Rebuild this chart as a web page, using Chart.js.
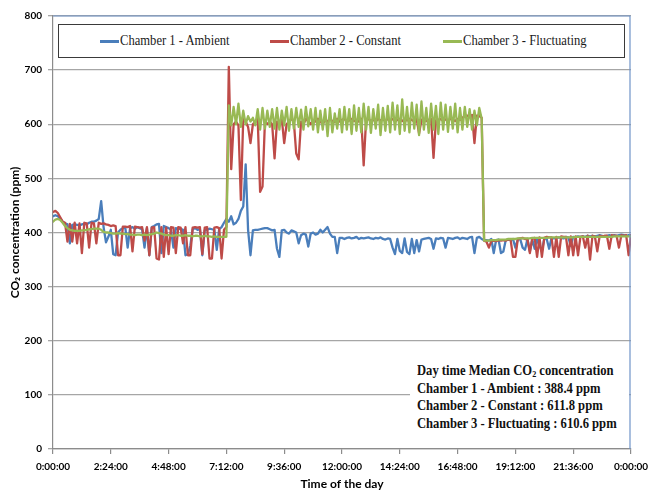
<!DOCTYPE html>
<html>
<head>
<meta charset="utf-8">
<script src="https://cdn.jsdelivr.net/npm/chart.js@4.4.1/dist/chart.umd.min.js"></script>
<style>
  body { margin: 0; background: #fff; }
  #wrap { position: relative; width: 648px; height: 490px; }
  #legend { position: absolute; left: 58px; top: 24px; width: 565px; height: 32px; border: 1.5px solid #3a3a3a; background: #fff; }
  .swatch { position: absolute; top: 40px; width: 19px; height: 2.5px; }
  .lbl { position: absolute; top: 32px; font-family: "Liberation Serif", serif; font-size: 14px; line-height: 18px; color: #1a1a1a; white-space: nowrap; transform: scaleX(0.9); transform-origin: left center; }
  #note { position: absolute; left: 410px; top: 354px; width: 219px; height: 88px; background: #fff; }
  #note div { position: absolute; left: 7px; font-family: "Liberation Serif", serif; font-weight: bold; font-size: 14px; line-height: 17.5px; color: #111; white-space: nowrap; transform: scaleX(0.9); transform-origin: left center; }
  #note sub { font-size: 9px; line-height: 0; vertical-align: -2px; }
</style>
</head>
<body>
<div id="wrap">
  <canvas id="chart" width="648" height="490"></canvas>
  <div id="legend"></div>
  <div class="swatch" style="left:100px;background:#4A7EBB"></div>
  <div class="lbl" style="left:120px">Chamber 1 - Ambient</div>
  <div class="swatch" style="left:270px;background:#BE4B48"></div>
  <div class="lbl" style="left:290px">Chamber 2 - Constant</div>
  <div class="swatch" style="left:443px;background:#98B954"></div>
  <div class="lbl" style="left:463px">Chamber 3 - Fluctuating</div>
  <div id="note">
    <div style="top:8px">Day time Median CO<sub>2</sub> concentration</div>
    <div style="top:25.5px">Chamber 1 - Ambient : 388.4 ppm</div>
    <div style="top:43px">Chamber 2 - Constant : 611.8 ppm</div>
    <div style="top:60.5px">Chamber 3 - Fluctuating : 610.6 ppm</div>
  </div>
</div>
<script>
// Sensor readings, one every 6 minutes (0.1 h) over the day
const hours = [];
for (let i = 0; i <= 240; i++) hours.push(i / 10);

// Chamber 1 - Ambient (ppm)
const ambient = [
  430,432,430,426,420,417,415,380,414,415,
  414,413,415,416,415,418,420,420,422,425,
  458,410,382,392,405,360,358,400,405,408,
  410,372,408,410,407,410,408,406,372,408,
  358,410,412,415,416,362,412,410,408,405,
  372,408,406,407,405,358,360,375,406,408,
  405,406,358,404,405,407,406,405,368,406,
  410,418,425,420,430,415,418,425,440,448,
  526,405,358,404,405,405,406,407,408,408,
  406,404,405,370,355,404,405,400,398,404,
  402,400,380,395,398,396,374,398,400,396,
  398,405,400,405,410,398,392,392,362,390,
  390,388,390,391,389,390,392,388,390,389,
  390,391,389,388,390,389,391,388,387,389,
  388,372,360,388,366,362,389,364,360,388,
  362,386,365,387,388,389,390,388,370,389,
  388,390,389,372,390,389,388,390,391,388,
  390,389,388,391,392,362,390,392,388,386,
  386,385,388,362,386,387,362,365,386,387,
  386,388,372,387,388,372,368,388,365,387,
  370,388,375,366,389,388,370,390,389,390,
  391,390,389,392,391,375,392,391,393,392,
  393,392,394,393,394,393,394,395,394,393,
  394,395,394,395,394,395,396,395,394,395,
  395
];

// Chamber 2 - Constant (ppm)
const constant = [
  438,440,436,428,420,418,383,416,383,418,
  380,417,362,418,417,372,418,417,380,418,
  416,417,415,414,412,413,412,358,358,411,
  411,410,412,365,411,410,409,410,385,410,
  358,409,410,352,350,410,355,409,360,410,
  409,362,410,409,380,410,358,358,409,410,
  409,410,360,409,410,352,352,409,410,408,
  352,405,410,706,517,600,605,598,460,612,
  605,595,565,600,605,610,475,485,605,600,
  605,600,537,605,600,610,565,600,605,610,
  605,546,535,605,600,610,605,600,608,605,
  610,605,600,608,605,610,606,604,610,605,
  608,610,605,607,610,606,608,605,610,524,
  608,610,606,608,605,610,607,609,606,610,
  607,610,605,608,610,606,609,607,610,608,
  605,610,583,608,610,606,608,610,538,607,
  608,610,606,609,607,610,608,606,610,608,
  612,615,616,615,617,565,616,615,612,385,
  383,372,384,385,384,386,385,386,385,387,
  387,355,355,388,389,390,388,388,362,389,
  390,355,391,355,390,392,391,391,355,392,
  355,393,392,392,358,393,358,393,358,392,
  393,372,394,350,394,393,365,394,393,394,
  394,370,395,394,394,372,395,394,395,358,
  395
];

// Chamber 3 - Fluctuating (ppm)
const fluctuating = [
  420,424,425,423,418,412,408,405,404,403,
  403,403,404,404,405,406,406,407,407,407,
  405,401,400,400,399,398,398,399,398,398,
  397,397,396,396,395,396,396,395,396,395,
  396,397,398,400,399,398,396,395,395,394,
  394,395,395,394,394,395,394,394,393,394,
  394,393,393,394,393,393,392,393,392,392,
  392,392,392,635,598,632,600,638,595,625,
  600,615,605,612,598,628,590,630,592,625,
  595,628,592,630,590,625,598,632,588,628,
  592,630,595,627,590,632,596,628,590,630,
  585,625,590,628,578,630,585,620,592,628,
  585,632,590,628,582,635,588,630,585,638,
  590,632,584,628,592,636,580,630,588,634,
  585,640,590,635,582,646,588,632,585,640,
  592,636,580,642,590,630,584,638,590,634,
  582,640,590,636,586,632,592,638,585,630,
  590,632,595,628,590,625,598,630,610,385,
  385,385,386,386,386,387,387,387,387,388,
  388,388,388,389,389,389,389,389,389,390,
  390,390,390,390,390,390,391,391,391,391,
  391,391,391,391,391,391,391,392,392,392,
  392,392,392,392,392,392,392,392,392,392,
  392,392,392,393,393,393,393,393,393,393,
  393
];

const xTickHours = [0, 2.4, 4.8, 7.2, 9.6, 12, 14.4, 16.8, 19.2, 21.6, 24];
const yMax = 800;

function formatTime(h) {
  const mins = Math.round(h * 60) % 1440;
  const hh = Math.floor(mins / 60);
  const mm = mins % 60;
  return hh + ':' + String(mm).padStart(2, '0') + ':00';
}

function points(values) {
  return hours.map((h, i) => ({ x: h, y: values[i] }));
}

// blue frame on the top and right of the plot area
const plotFrame = {
  id: 'plotFrame',
  afterDatasetsDraw(chart) {
    const { ctx, chartArea: a } = chart;
    ctx.save();
    ctx.strokeStyle = '#7094c8';
    ctx.lineWidth = 1.2;
    ctx.beginPath();
    ctx.moveTo(a.left, a.top);
    ctx.lineTo(a.right - 1, a.top);
    ctx.lineTo(a.right - 1, a.bottom);
    ctx.stroke();
    ctx.restore();
  }
};

const tickFont = { family: 'Lato', weight: 'bold', size: 10 };
const titleFont = { family: 'Lato', weight: 'bold', size: 12, lineHeight: 1 };

new Chart(document.getElementById('chart'), {
  type: 'line',
  data: {
    datasets: [
      { label: 'Chamber 1 - Ambient', data: points(ambient), borderColor: '#4A7EBB', order: 3 },
      { label: 'Chamber 2 - Constant', data: points(constant), borderColor: '#BE4B48', order: 2 },
      { label: 'Chamber 3 - Fluctuating', data: points(fluctuating), borderColor: '#98B954', order: 1 }
    ]
  },
  options: {
    responsive: false,
    animation: false,
    devicePixelRatio: 1,
    layout: { padding: { left: 0, right: 17, top: 16, bottom: 0 } },
    elements: {
      line: { borderWidth: 2.3, tension: 0, borderJoinStyle: 'round', borderCapStyle: 'round' },
      point: { radius: 0 }
    },
    plugins: { legend: { display: false }, tooltip: { enabled: false } },
    scales: {
      x: {
        type: 'linear',
        min: 0,
        max: 24,
        afterBuildTicks: s => { s.ticks = xTickHours.map(v => ({ value: v })); },
        afterFit: s => { s.height = 41; s.paddingLeft = 0; s.paddingRight = 0; },
        ticks: { autoSkip: false, maxRotation: 0, padding: 7, font: tickFont, color: '#000', callback: v => formatTime(v) },
        grid: { drawOnChartArea: false, tickLength: 5, color: '#8c8c8c', lineWidth: 1.2 },
        border: { color: '#8c8c8c', width: 1.2 },
        title: { display: true, text: 'Time of the day', font: titleFont, color: '#000', padding: { top: 0, bottom: 0 } }
      },
      y: {
        min: 0,
        max: yMax,
        afterFit: s => { s.width = 53; s.paddingTop = 0; s.paddingBottom = 0; },
        ticks: { stepSize: 100, padding: 6, font: tickFont, color: '#000' },
        grid: { color: '#a6a6a6', lineWidth: 1.3, tickLength: 5 },
        border: { color: '#8c8c8c', width: 1.2 },
        title: { display: true, text: 'CO₂ concentration (ppm)', font: titleFont, color: '#000', padding: { top: 9, bottom: 0 } }
      }
    }
  },
  plugins: [plotFrame]
});
</script>
</body>
</html>
